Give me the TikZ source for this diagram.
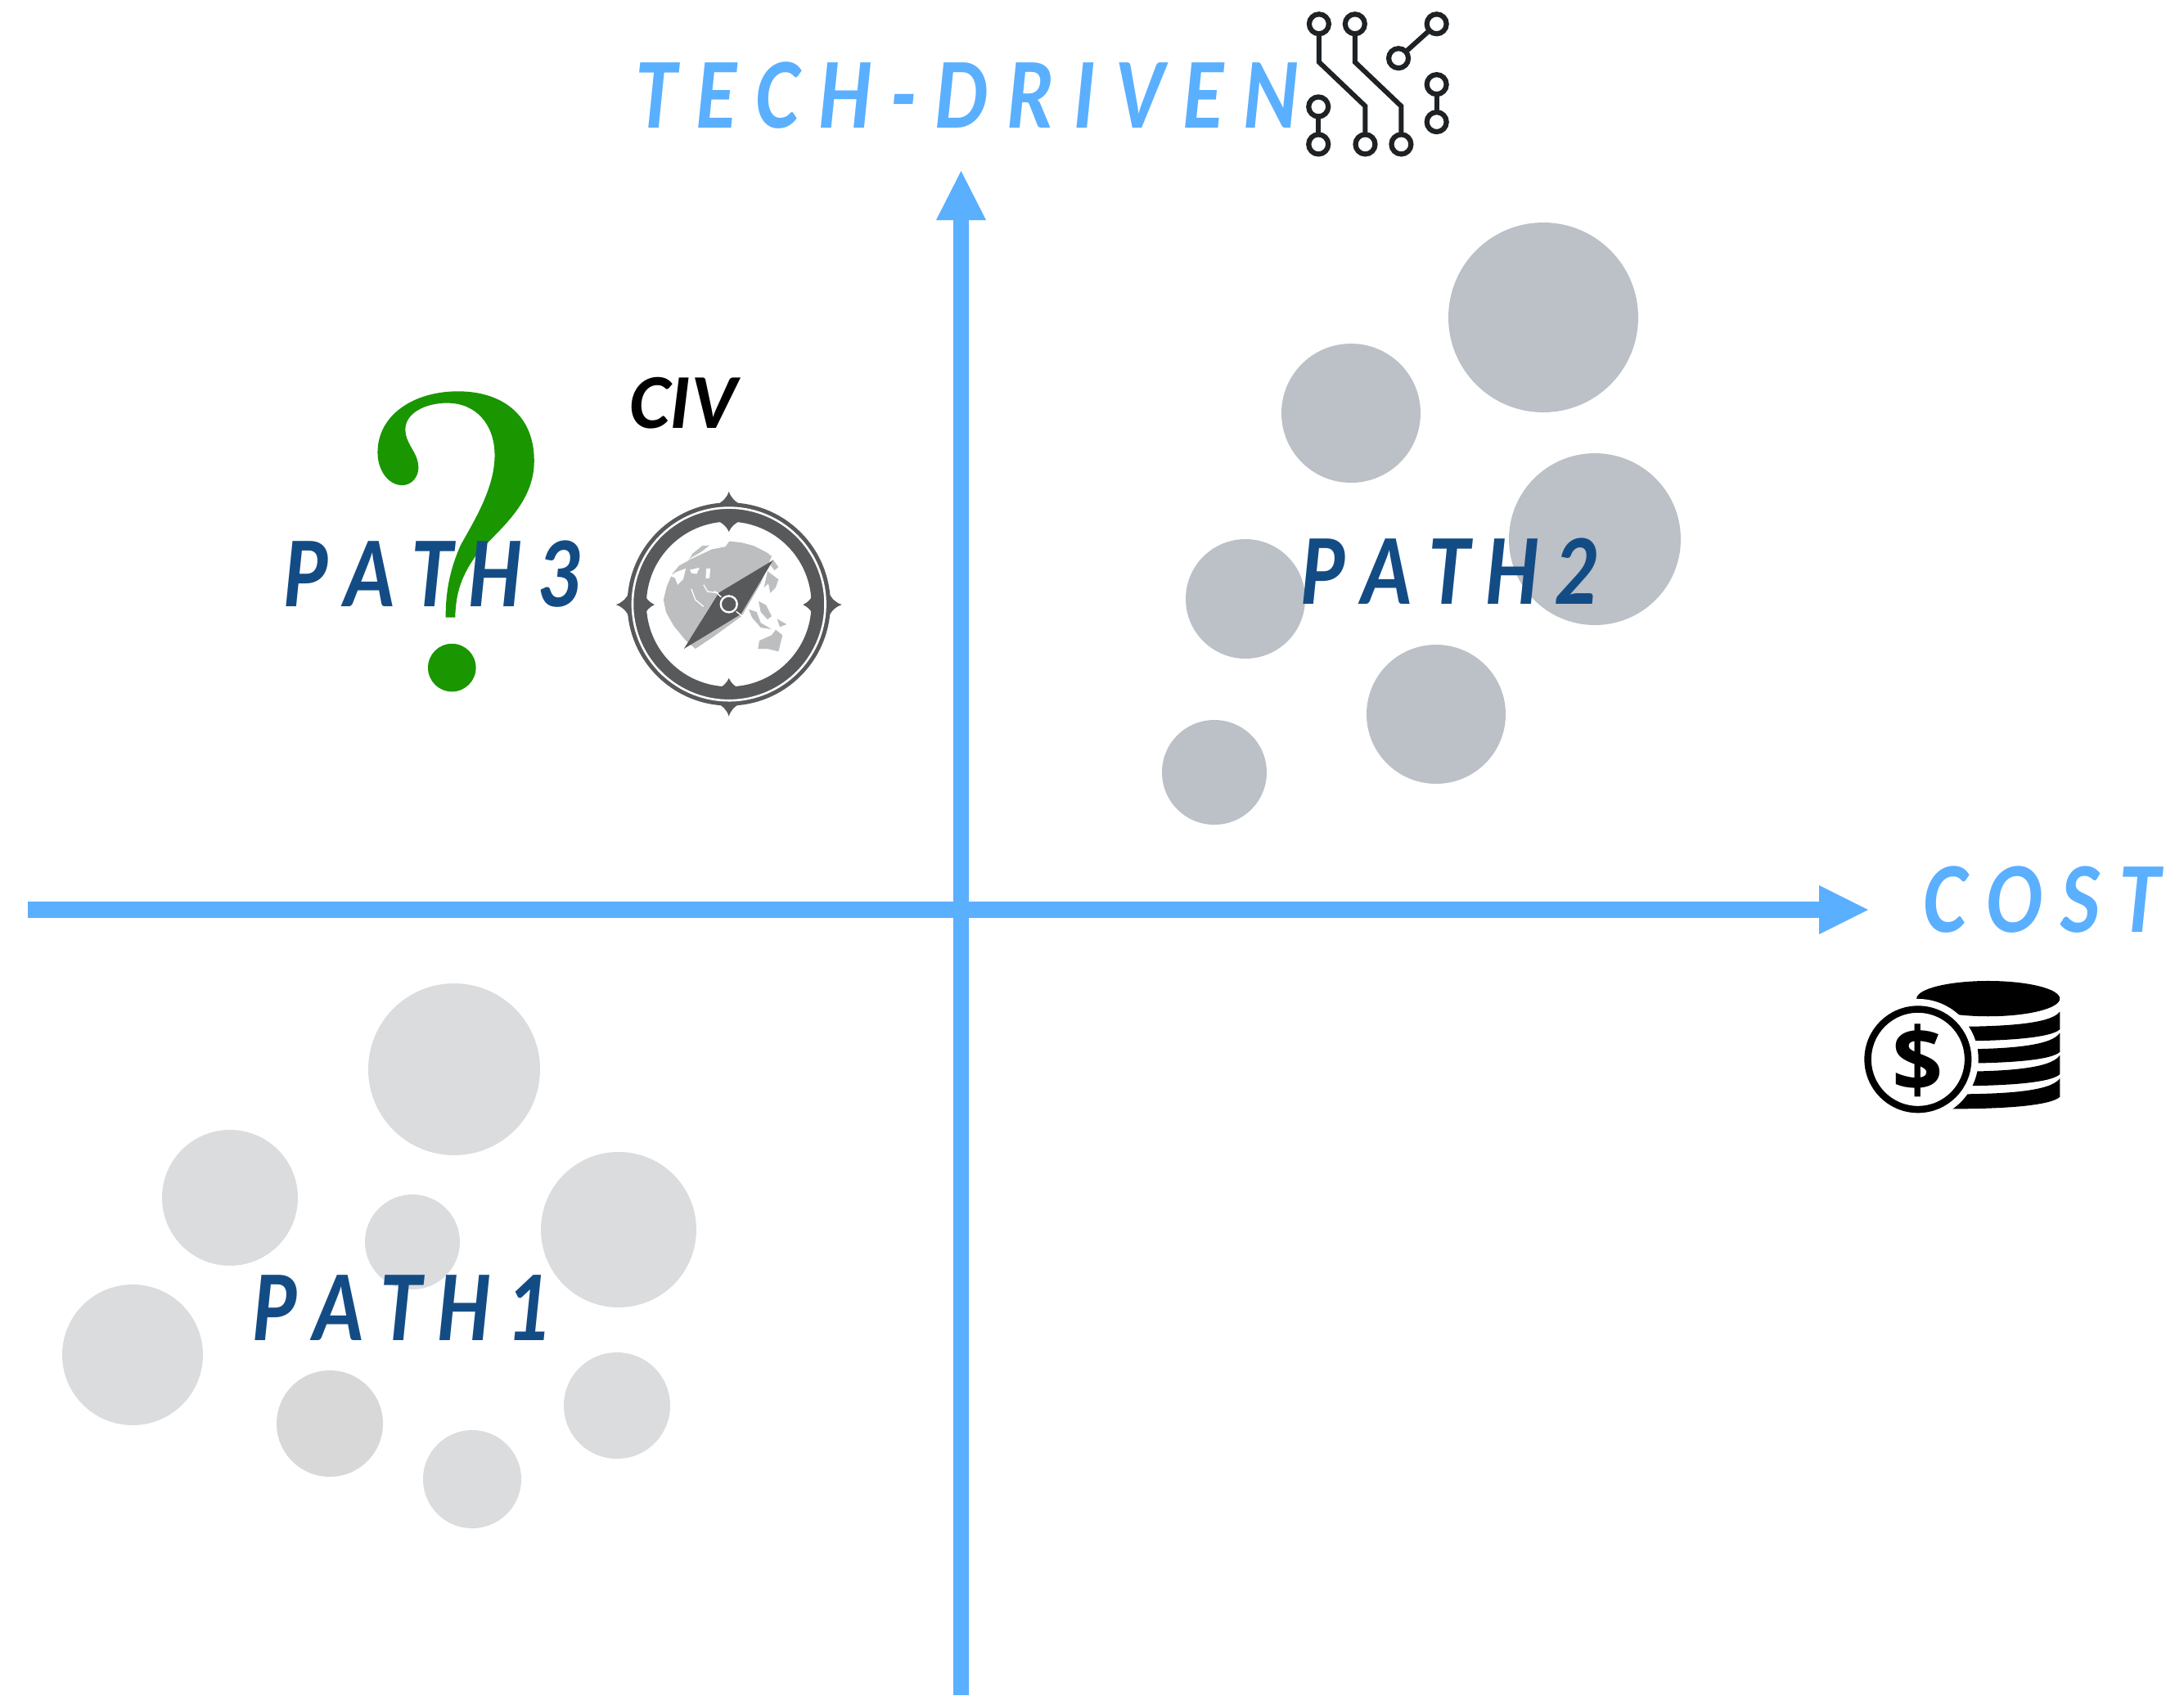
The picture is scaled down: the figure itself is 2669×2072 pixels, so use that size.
\documentclass[tikz,border=0pt]{standalone}
\usepackage{fontspec}
\setmainfont{Carlito}
\newfontfamily\lblfont[ItalicFont=Carlito Bold Italic,FakeStretch=0.83,LetterSpace=19,Ligatures=NoCommon,Kerning=Off]{Carlito}
\newfontfamily\pthfont[ItalicFont=Carlito Bold Italic,FakeStretch=0.83,LetterSpace=16,Ligatures=NoCommon,Kerning=Off]{Carlito}
\newfontfamily\civfont[ItalicFont=Carlito Bold Italic]{Carlito}
\def\pxu{0.2845pt}
\definecolor{axisblue}{HTML}{5AAFFF}
\definecolor{pathblue}{HTML}{134C85}
\definecolor{qgreen}{HTML}{1A9600}
\definecolor{darkbub}{HTML}{BCC0C7}
\definecolor{lightbub}{HTML}{DBDCDE}
\definecolor{lightbubb}{HTML}{D8D8D9}
\definecolor{compdark}{HTML}{58595B}
\definecolor{compgrey}{HTML}{BCBEC0}
\definecolor{chipdark}{HTML}{1E2224}
\tikzset{
 x=0.01cm,y=-0.01cm,
 bubdark/.style={fill=darkbub,draw=none},
 bublight/.style={fill=lightbub,draw=none},
 axisline/.style={fill=axisblue,draw=none},
 axislabel/.style={text=axisblue,anchor=base west,inner sep=0pt,font=\lblfont\itshape\fontsize{35}{35}\selectfont},
 pathlabel/.style={text=pathblue,anchor=base west,inner sep=0pt,font=\pthfont\itshape\fontsize{35}{35}\selectfont},
 civlabel/.style={text=black,anchor=base west,inner sep=0pt,font=\civfont\itshape\fontsize{27}{27}\selectfont},
 chip/.style={draw=chipdark,line width=6*\pxu,fill=none},
 chipring/.style={draw=chipdark,line width=6.2*\pxu,fill=white},
 gcut/.style={fill=white,draw=none},
}
\begin{document}
\begin{tikzpicture}
\useasboundingbox (0,0) rectangle (2669,2072);
% bubbles
\fill[bubdark] (1886,388) circle[radius=116];
\fill[bubdark] (1651,505) circle[radius=85];
\fill[bubdark] (1949,659) circle[radius=105];
\fill[bubdark] (1522,732) circle[radius=73];
\fill[bubdark] (1755,873) circle[radius=85];
\fill[bubdark] (1484,944) circle[radius=64];
\fill[bublight] (555,1307) circle[radius=105];
\fill[bublight] (281,1464) circle[radius=83];
\fill[bublight] (756,1503) circle[radius=95];
\fill[bublight] (504,1518) circle[radius=58];
\fill[bublight] (162,1656) circle[radius=86];
\fill[lightbubb] (403,1740) circle[radius=65];
\fill[bublight] (577,1808) circle[radius=60];
\fill[bublight] (754,1718) circle[radius=65];
% axes
\fill[axisline] (34,1102) rectangle (2223,1121.5);
\fill[axisline] (2223,1082) -- (2283,1112) -- (2223,1142) -- cycle;
\fill[axisline] (1164.5,2072) rectangle (1184,269);
\fill[axisline] (1144,269) -- (1174.5,209) -- (1205,269) -- cycle;
% question mark
\begin{scope}[shift={(320,450)},x=0.00333cm,y=-0.00333cm]
\fill[qgreen] (675,915) -- (710,915)
 .. controls (712,830) and (730,760) .. (800,670)
 .. controls (900,570) and (1000,480) .. (1000,340)
 .. controls (1000,170) and (880,85) .. (720,85)
 .. controls (560,85) and (425,170) .. (425,310)
 .. controls (425,375) and (465,430) .. (515,430)
 .. controls (550,430) and (575,400) .. (575,365)
 .. controls (575,310) and (527,280) .. (527,225)
 .. controls (527,165) and (600,128) .. (680,128)
 .. controls (790,128) and (855,210) .. (855,320)
 .. controls (855,440) and (780,560) .. (730,650)
 .. controls (690,740) and (675,820) .. (675,915) -- cycle;
\fill[qgreen] (698,1100) circle[radius=88];
\end{scope}
% compass
\begin{scope}[shift={(730,580)},x=0.00333cm,y=-0.00333cm]
\fill[compdark,even odd rule] (483,476) circle[radius=373] (483,476) circle[radius=303];
\draw[white,line width=2.6*\pxu] (483,476) ++(137:354) arc[start angle=137,end angle=-43,radius=354];
\draw[white,line width=2.6*\pxu] (483,476) ++(133:354) arc[start angle=133,end angle=317,radius=354];
\fill[compdark] (483,62) .. controls (490,85) and (505,100) .. (530,112) -- (436,112) .. controls (461,100) and (476,85) .. (483,62);
\fill[compdark] (483,888) .. controls (490,865) and (505,850) .. (530,838) -- (436,838) .. controls (461,850) and (476,865) .. (483,888);
\fill[compdark] (68,478) .. controls (91,471) and (106,456) .. (118,431) -- (118,525) .. controls (106,500) and (91,485) .. (68,478);
\fill[compdark] (898,478) .. controls (875,471) and (860,456) .. (848,431) -- (848,525) .. controls (860,500) and (875,485) .. (898,478);
\fill[compdark] (483,210) .. controls (475,192) and (462,180) .. (442,170) -- (524,170) .. controls (504,180) and (491,192) .. (483,210);
\fill[compdark] (483,748) .. controls (475,766) and (462,778) .. (442,788) -- (524,788) .. controls (504,778) and (491,766) .. (483,748);
\fill[compdark] (210,478) .. controls (192,470) and (180,457) .. (170,437) -- (170,519) .. controls (180,499) and (192,486) .. (210,478);
\fill[compdark] (755,478) .. controls (773,470) and (785,457) .. (795,437) -- (795,519) .. controls (785,499) and (773,486) .. (755,478);
% globe
\fill[compgrey] (385,262) -- (412,260) -- (380,285) -- (345,305) -- (335,315) -- (350,290) -- cycle;
\fill[compgrey] (420,275) -- (470,265) -- (485,245) -- (530,250) -- (575,262) -- (620,285) -- (640,300)
 -- (600,400) -- (530,520) -- (420,600) -- (360,640) -- (325,610) -- (280,555)
 -- (252,505) -- (243,460) -- (255,410) -- (275,365) -- (300,335) -- (345,310) -- cycle;
\fill[compgrey] (556,495) -- (585,505) -- (600,545) -- (640,568) -- (600,562) -- (568,525) -- cycle;
\fill[compgrey] (592,465) -- (620,480) -- (640,520) -- (625,532) -- (600,505) -- cycle;
\fill[compgrey] (660,530) -- (695,550) -- (670,560) -- cycle;
\fill[compgrey] (645,312) -- (665,340) -- (650,352) -- (635,330) -- cycle;
\fill[compgrey] (625,355) -- (665,385) -- (655,415) -- (635,435) -- (628,400) -- (612,415) -- cycle;
\fill[compgrey] (595,610) -- (640,590) -- (655,570) -- (680,590) -- (665,650) -- (625,640) -- (590,640) -- cycle;
\fill[gcut] (268,372) -- (290,358) -- (325,345) -- (315,385) -- (295,405) -- (285,380) -- cycle;
\fill[gcut] (340,350) -- (375,342) -- (365,365) -- (345,362) -- cycle;
\fill[gcut] (400,345) -- (415,345) -- (412,380) -- (398,382) -- cycle;
\draw[white,line width=1.3*\pxu] (345,420) -- (360,460) -- (390,485);
\draw[white,line width=1.3*\pxu] (390,405) -- (405,430) -- (445,435);
\draw[white,line width=1.3*\pxu] (440,445) -- (382,540);
% needle
\fill[compdark] (645,315) -- (527,513) -- (318,640) -- (445,435) -- cycle;
\draw[white,line width=2.4*\pxu,fill=compdark] (483,476) circle[radius=30];
\draw[white,line width=1.4*\pxu] (430,428) -- (455,450);
\draw[white,line width=1.4*\pxu] (510,503) -- (532,520);
\end{scope}
% circuit icon
\begin{scope}[shift={(1550,0)},x=0.00333cm,y=-0.00333cm]
\draw[chip] (186,88) -- (186,228) -- (356,390) -- (356,530);
\draw[chip] (318,88) -- (318,228) -- (488,390) -- (488,530);
\draw[chip] (618,88) -- (478,214);
\draw[chip] (618,310) -- (618,448);
\draw[chip] (184,392) -- (184,530);
\foreach \cx/\cy in {186/88,318/88,618/88,478/214,618/310,618/448,184/392,184/530,356/530,488/530}
  \draw[chipring] (\cx,\cy) circle[radius=36];
\end{scope}
% coins
\begin{scope}[shift={(2250,1180)},x=0.00333cm,y=-0.00333cm]
\fill[black] (540,122) ellipse[x radius=263,y radius=65];
\foreach \a/\b/\c/\d in {225/170/235/278,308/248/318/360,390/330/400/443,473/415/483/527}{
 \fill[black] (400,\a) .. controls (600,\a) and (770,\a-10) .. (803,\b)
   -- (803,\c) .. controls (770,\c+30) and (620,\d) .. (400,\d) -- cycle;
}
\fill[white] (282,345) circle[radius=222];
\draw[black,line width=8.5*\pxu,fill=white] (282,345) circle[radius=184];
\node[inner sep=0pt,font=\fontspec{Open Sans}\bfseries\fontsize{31}{31}\selectfont] (dollar) at (280,350) {\$};
\end{scope}
% labels
\node[axislabel] (techl) at (776,156) {TECH-DRIVEN};
\node[axislabel] (costl) at (2350,1139) {COST};
\node[pathlabel] (p1) at (308,1638) {PATH1};
\node[pathlabel] (p2) at (1589,738) {PATH2};
\node[pathlabel] (p3) at (346,741) {PATH3};
\node[civlabel] (civl) at (769,523) {CIV};
\end{tikzpicture}
\end{document}
